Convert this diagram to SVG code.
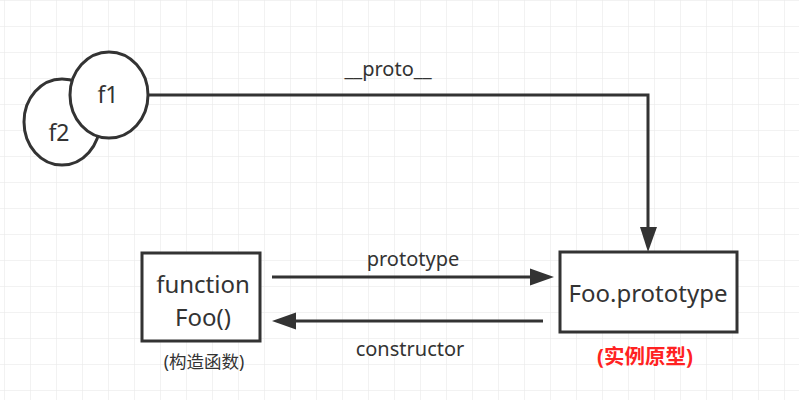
<svg xmlns="http://www.w3.org/2000/svg" width="799" height="400" viewBox="0 0 799 400">
<defs>
<pattern id="grid" x="4" y="0" width="26" height="26" patternUnits="userSpaceOnUse">
<path d="M0 0V26M0 0H26" fill="none" stroke="#e6e6e6" stroke-width="1"/>
</pattern>
</defs>
<style>
.node{fill:#fff;stroke:#333;stroke-width:3}
.t{font-family:"Noto Sans","Noto Sans CJK SC",sans-serif;fill:#333;text-anchor:middle}
.edge{fill:none;stroke:#333;stroke-width:3}
.head{fill:#333}
</style>
<rect width="799" height="400" fill="#fff"/>
<rect width="799" height="400" fill="url(#grid)"/>
<g id="connectors">
<path class="edge" d="M148 95H648V228"/>
<path class="head" d="M640 227L648 252L657 227Z"/>
<path class="edge" d="M272 277H532"/>
<path class="head" d="M530 268.5L554 277L530 285.5Z"/>
<path class="edge" d="M543 321H294"/>
<path class="head" d="M296 312.5L272 321L296 329.5Z"/>
<text class="t" x="388" y="76" font-size="20">__proto__</text>
<text class="t" x="413" y="266" font-size="20">prototype</text>
<text class="t" x="410" y="356" font-size="20">constructor</text>
</g>
<g id="f2">
<ellipse class="node" cx="62" cy="122" rx="38" ry="43"/>
<text class="t" x="59" y="141" font-size="23">f2</text>
</g>
<g id="f1">
<ellipse class="node" cx="109" cy="95" rx="39" ry="43"/>
<text class="t" x="108" y="103" font-size="23">f1</text>
</g>
<g id="foo">
<rect class="node" x="142" y="253" width="118" height="88"/>
<text class="t" x="203" y="293" font-size="24">function</text>
<text class="t" x="203" y="326" font-size="24">Foo()</text>
<text class="t" x="204" y="368" font-size="17.5">(构造函数)</text>
</g>
<g id="fooproto">
<rect class="node" x="560" y="252" width="177" height="80"/>
<text class="t" x="648" y="302" font-size="24">Foo.prototype</text>
<text class="t" x="645" y="364" font-size="20.5" font-weight="bold" style="fill:#ff2222">(实例原型)</text>
</g>
</svg>
